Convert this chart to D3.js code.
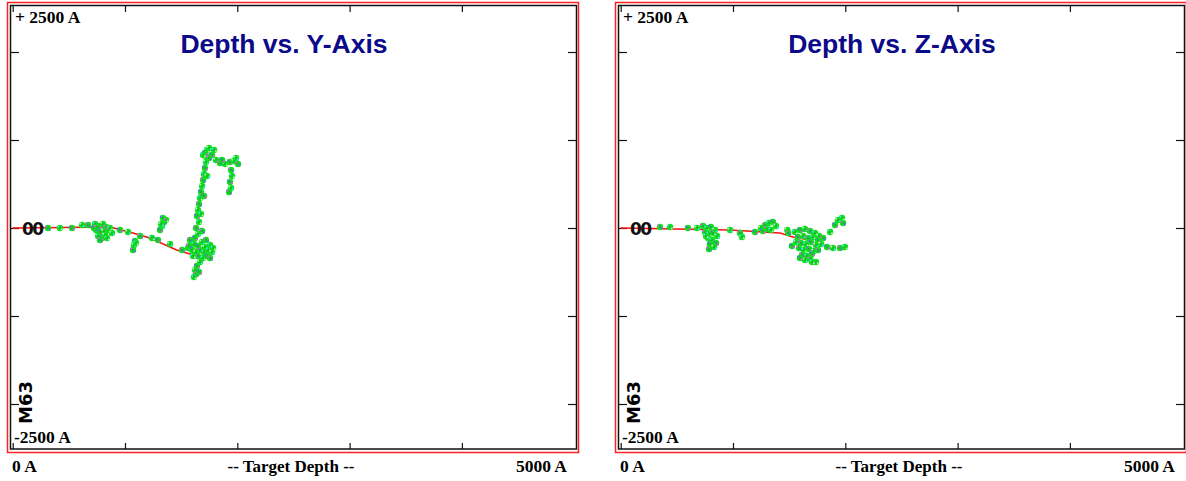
<!DOCTYPE html>
<html>
<head>
<meta charset="utf-8">
<script src="https://cdn.jsdelivr.net/npm/d3@7"></script>
<style>
    body { margin: 0; background: #fff; }
</style>
</head>
<body>
<div id="chart"></div>
<script>
// depth (A) along x, offset (A) along y
var panelTitles = ["Depth vs. Y-Axis", "Depth vs. Z-Axis"];
var xTicks = [0, 1000, 2000, 3000, 4000];
var yTicks = [-2000, -1000, 0, 1000, 2000];
var topLabel = "+ 2500 A";
var bottomLabel = "-2500 A";
var xLabels = ["0 A", "-- Target Depth --", "5000 A"];
var sideLabel = "M63";

// red track line
var yAxisTrack = [[0, 0], [866, 11], [1070, -57], [1220, -114], [1460, -250], [1670, -330]];
var zAxisTrack = [[0, 0], [974, -23], [1419, -57], [1534, -102], [1686, -136]];

// scatter dots, Y panel
var yAxisPoints = [
    [314, 0], [421, 0], [528, 0], [617, 34], [670, 34],
    [733, 45], [768, 23], [804, 45], [831, 11], [742, -23], [777, -45], [813, -34], [849, -23],
    [760, -91], [795, -114], [822, -80], [777, -136], [866, 0],
    [724, 0], [884, -57], [751, 11], [840, -114],
    [955, -23], [1027, -45], [1134, -91], [1240, -114], [1294, -136], [1401, -182], [1508, -250], [1561, -227],
    [1089, -148], [1080, -193], [1071, -250], [1098, -170],
    [1312, -23], [1330, 23], [1347, 68], [1365, 91], [1338, 114], [1321, 45],
    [1579, -136], [1615, -182], [1650, -205], [1686, -159], [1721, -136], [1757, -193],
    [1597, -250], [1632, -273], [1668, -250], [1704, -273], [1739, -250], [1775, -273],
    [1650, -318], [1695, -341], [1730, -318], [1668, -386],
    [1570, -205], [1784, -227], [1623, -114], [1712, -216], [1757, -341], [1606, -318],
    [1641, -432], [1623, -477], [1632, -523], [1614, -557], [1659, -500],
    [1650, -68], [1632, 0], [1659, 68], [1641, 136], [1650, 205], [1659, 273], [1668, 341],
    [1677, 409], [1686, 477], [1695, 545], [1704, 614], [1712, 682], [1721, 750], [1721, 818],
    [1730, 886], [1712, 852], [1748, 909],
    [1686, -34], [1677, 159], [1704, 364], [1730, 591], [1748, 795], [1695, 830],
    [1775, 830], [1810, 773], [1846, 739], [1891, 727], [1935, 750], [1971, 761], [2006, 727], [1793, 886],
    [1864, 773], [1988, 795],
    [1944, 659], [1953, 591], [1935, 523], [1944, 455], [1926, 409]
];

// scatter dots, Z panel
var zAxisPoints = [
    [350, 11], [439, 11], [599, 0], [679, 0],
    [733, 23], [768, 0], [804, 11], [840, -23], [751, -45], [786, -68], [822, -57], [858, -91],
    [777, -114], [813, -136], [795, -182], [831, -216], [786, -239],
    [760, -91], [849, -170],
    [974, -23], [1062, -57], [1080, -102], [1196, -45],
    [1249, 0], [1285, 34], [1321, 57], [1356, 68], [1383, 23], [1303, -11], [1338, -23], [1267, -34],
    [1483, -23], [1492, -57],
    [1552, -45], [1597, -23], [1641, -11], [1686, -34], [1730, -57],
    [1579, -102], [1623, -91], [1668, -114], [1712, -102], [1757, -136],
    [1561, -159], [1606, -170], [1650, -182], [1695, -159], [1739, -193],
    [1588, -227], [1632, -250], [1677, -239], [1721, -261],
    [1615, -307], [1659, -318], [1704, -295], [1641, -364], [1686, -352], [1739, -386],
    [1525, -205], [1766, -91], [1757, -250], [1704, -386], [1597, -341], [1784, -182],
    [1803, -114], [1865, -45], [1909, 34], [1935, 91], [1980, 57], [1971, 114],
    [1837, -216], [1891, -227], [1953, -227], [1997, -216]
];

var width = 1186;
var height = 481;

var svg = d3.select("#chart")
    .append("svg")
    .attr("width", width)
    .attr("height", height)
    .style("font-family", "'Liberation Serif', 'Times New Roman', serif");

var xScale = d3.scaleLinear().domain([0, 5000]).range([12.7, 574.2]);
var yScale = d3.scaleLinear().domain([-2500, 2500]).range([448, 8]);

var speckColors = ["#ff44ff", "#33eeee", "#6666ff", "#aaffaa"];

function drawPanel(offsetX, title, track, points) {
    var g = svg.append("g").attr("transform", "translate(" + offsetX + ",0)");

    // frame: red outer, black inner
    g.append("rect")
        .attr("x", 7.5).attr("y", 2.5)
        .attr("width", 571).attr("height", 450)
        .attr("fill", "none").attr("stroke", "#ff2020").attr("stroke-width", 1.5);
    g.append("rect")
        .attr("x", 10.5).attr("y", 5.5)
        .attr("width", 566).attr("height", 443.5)
        .attr("fill", "none").attr("stroke", "#111").attr("stroke-width", 1.5);

    // ticks on all four sides
    var axes = [
        { axis: d3.axisBottom(xScale).tickValues(xTicks).tickSize(-6), tr: "translate(0,449)" },
        { axis: d3.axisTop(xScale).tickValues(xTicks).tickSize(-6), tr: "translate(0,6)" },
        { axis: d3.axisLeft(yScale).tickValues(yTicks).tickSize(-8), tr: "translate(11,0)" },
        { axis: d3.axisRight(yScale).tickValues(yTicks).tickSize(-8), tr: "translate(576,0)" }
    ];
    axes.forEach(function (a) {
        var ax = g.append("g")
            .attr("transform", a.tr)
            .call(a.axis.tickFormat(""));
        ax.select(".domain").remove();
        ax.selectAll("line").attr("stroke", "#111").attr("stroke-width", 1.2);
    });

    g.append("text")
        .attr("x", 284)
        .attr("y", 53)
        .attr("text-anchor", "middle")
        .style("font-family", "'Liberation Sans', Arial, sans-serif")
        .style("font-weight", "bold")
        .style("font-size", "26.5px")
        .attr("fill", "#0a0a8a")
        .text(title);

    g.append("text")
        .attr("x", 15).attr("y", 23)
        .style("font-weight", "bold").style("font-size", "17.5px")
        .text(topLabel);
    g.append("text")
        .attr("x", 14).attr("y", 443)
        .style("font-weight", "bold").style("font-size", "17.5px")
        .text(bottomLabel);

    g.append("text")
        .attr("transform", "translate(32,424) rotate(-90)")
        .style("font-family", "'DejaVu Sans', sans-serif")
        .style("font-weight", "bold").style("font-size", "18px")
        .text(sideLabel);

    // bottom labels below the frame
    g.append("text")
        .attr("x", 12).attr("y", 472)
        .style("font-weight", "bold").style("font-size", "17.5px")
        .text(xLabels[0]);
    g.append("text")
        .attr("x", 291).attr("y", 472)
        .attr("text-anchor", "middle")
        .style("font-weight", "bold").style("font-size", "17px")
        .text(xLabels[1]);
    g.append("text")
        .attr("x", 567).attr("y", 472)
        .attr("text-anchor", "end")
        .style("font-weight", "bold").style("font-size", "17.5px")
        .text(xLabels[2]);

    // red track
    var line = d3.line()
        .x(function (d) { return xScale(d[0]); })
        .y(function (d) { return yScale(d[1]); });
    g.append("path")
        .datum(track)
        .attr("d", line)
        .attr("fill", "none")
        .attr("stroke", "#ff1010")
        .attr("stroke-width", 1.6);

    // zero label
    g.append("text")
        .attr("x", 22).attr("y", yScale(0) + 7)
        .style("font-family", "'DejaVu Sans', sans-serif")
        .style("font-weight", "bold").style("font-size", "17px")
        .style("letter-spacing", "-1.5px")
        .attr("fill", "#111")
        .text("00");

    // speckled dots
    var dots = g.selectAll(".dot")
        .data(points)
        .join("g")
        .attr("class", "dot")
        .attr("transform", function (d) {
            return "translate(" + xScale(d[0]) + "," + yScale(d[1]) + ")";
        });
    dots.append("circle")
        .attr("r", 3.2)
        .attr("fill", "#11dd22");
    dots.append("rect")
        .attr("x", -2.6).attr("y", -2.2)
        .attr("width", 1.7).attr("height", 1.7)
        .attr("fill", function (d, i) { return speckColors[i % 4]; });
    dots.append("rect")
        .attr("x", 0.9).attr("y", 0.5)
        .attr("width", 1.7).attr("height", 1.7)
        .attr("fill", function (d, i) { return speckColors[(i + 2) % 4]; });
    dots.append("rect")
        .attr("x", -0.6).attr("y", -0.6)
        .attr("width", 1.2).attr("height", 1.2)
        .attr("fill", "#227733");
}

drawPanel(0, panelTitles[0], yAxisTrack, yAxisPoints);
drawPanel(608, panelTitles[1], zAxisTrack, zAxisPoints);
</script>
</body>
</html>
